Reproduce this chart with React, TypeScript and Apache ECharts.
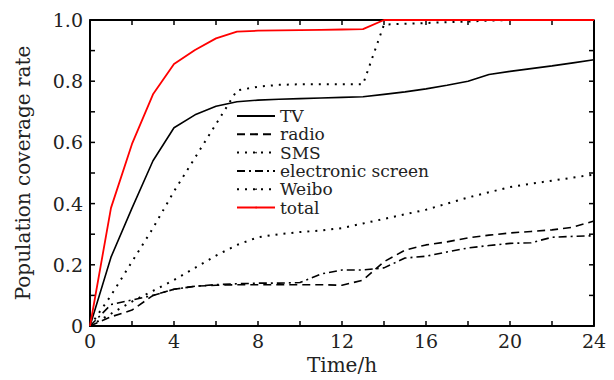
import React, { useEffect, useRef } from "react";
import * as echarts from "echarts";

const hours = [0,1,2,3,4,5,6,7,8,9,10,11,12,13,14,15,16,17,18,19,20,21,22,23,24];
const tv = [0,0.225,0.385,0.54,0.648,0.69,0.718,0.733,0.738,0.741,0.743,0.745,0.747,0.749,0.757,0.765,0.775,0.787,0.80,0.822,0.832,0.841,0.85,0.86,0.87];
const radio = [0,0.03,0.052,0.1,0.12,0.13,0.133,0.135,0.135,0.135,0.135,0.135,0.133,0.15,0.21,0.248,0.265,0.275,0.288,0.297,0.304,0.309,0.314,0.323,0.343];
const sms = [0,0.1,0.21,0.32,0.44,0.55,0.66,0.77,0.782,0.788,0.79,0.79,0.79,0.79,0.985,0.988,0.99,0.993,0.995,0.998,1,1,1,1,1];
const screen = [0,0.07,0.085,0.1,0.12,0.13,0.135,0.138,0.14,0.14,0.142,0.17,0.183,0.183,0.19,0.222,0.228,0.242,0.255,0.263,0.27,0.272,0.29,0.293,0.295];
const weibo = [0,0.04,0.08,0.115,0.15,0.19,0.23,0.265,0.29,0.3,0.307,0.312,0.32,0.335,0.35,0.365,0.38,0.4,0.42,0.437,0.454,0.465,0.475,0.485,0.495];
const total = [0,0.386,0.595,0.757,0.856,0.902,0.94,0.962,0.965,0.966,0.967,0.968,0.969,0.97,1,1,1,1,1,1,1,1,1,1,1];

const names = ["TV", "radio", "SMS", "electronic screen", "Weibo", "total"];
const xMin = 0, xMax = 24, yMin = 0, yMax = 1;
const xTicks = [2,4,6,8,10,12,14,16,18,20,22];
const yTicks = [0.1,0.2,0.3,0.4,0.5,0.6,0.7,0.8,0.9];
const FONT = "DejaVu Serif";

export default function App() {
  const ref = useRef<HTMLDivElement>(null);
  useEffect(() => {
    const chart = echarts.init(ref.current!, null, { renderer: "svg" });
    const mk = (name: string, data: number[], color: string, type: any, width = 1.6) => ({
      name,
      type: "line",
      data: hours.map((h, i) => [h, data[i]]),
      symbol: "none",
      lineStyle: { color, width, type },
      itemStyle: { color },
    });
    const tickStyle = { stroke: "#000", lineWidth: 1.5 };
    chart.setOption({
      animation: false,
      textStyle: { fontFamily: FONT },
      grid: { left: 90, right: 20, top: 20, bottom: 54 },
      legend: {
        left: 236,
        top: 107,
        orient: "vertical",
        itemWidth: 38,
        itemHeight: 2,
        itemGap: 0.3,
        padding: 0,
        data: names,
        textStyle: { fontFamily: FONT, fontSize: 17, lineHeight: 18, color: "#222" },
      },
      xAxis: {
        type: "value", min: xMin, max: xMax, interval: 2,
        name: "Time/h", nameLocation: "middle", nameGap: 29,
        nameTextStyle: { fontFamily: FONT, fontSize: 20, color: "#222" },
        axisLine: { show: true, lineStyle: { color: "#000", width: 2 } },
        axisTick: { show: false },
        splitLine: { show: false },
        axisLabel: { fontFamily: FONT, fontSize: 19, color: "#222", margin: 5,
          formatter: (v: number) => (v % 4 === 0 ? String(v) : "") },
      },
      yAxis: {
        type: "value", min: yMin, max: yMax, interval: 0.1,
        name: "Population coverage rate", nameLocation: "middle", nameGap: 57,
        nameTextStyle: { fontFamily: FONT, fontSize: 20, color: "#222" },
        axisLine: { show: true, lineStyle: { color: "#000", width: 2 } },
        axisTick: { show: false },
        splitLine: { show: false },
        axisLabel: { fontFamily: FONT, fontSize: 19, color: "#222", margin: 7,
          formatter: (v: number) => {
            const k = Math.round(v * 10);
            if (k % 2 !== 0) return "";
            return k === 0 ? "0" : v.toFixed(1);
          } },
      },
      series: [
        {
          name: "frame",
          type: "line",
          data: [[xMin, yMin], [xMax, yMin], [xMax, yMax], [xMin, yMax], [xMin, yMin]],
          symbol: "none",
          clip: false,
          silent: true,
          lineStyle: { color: "#000", width: 2 },
          z: 1,
        },
        {
          name: "xticks",
          type: "custom",
          silent: true,
          data: xTicks.map((v) => [v, yMin]),
          renderItem: (_p: any, api: any) => {
            const v = api.value(0);
            const t = api.coord([v, yMax]);
            const b = api.coord([v, yMin]);
            return {
              type: "group",
              children: [
                { type: "line", shape: { x1: t[0], y1: t[1], x2: t[0], y2: t[1] + 5 }, style: tickStyle },
                { type: "line", shape: { x1: b[0], y1: b[1], x2: b[0], y2: b[1] - 5 }, style: tickStyle },
              ],
            };
          },
          z: 1,
        },
        {
          name: "yticks",
          type: "custom",
          silent: true,
          data: yTicks.map((v) => [xMin, v]),
          renderItem: (_p: any, api: any) => {
            const v = api.value(1);
            const l = api.coord([xMin, v]);
            const r = api.coord([xMax, v]);
            return {
              type: "group",
              children: [
                { type: "line", shape: { x1: l[0], y1: l[1], x2: l[0] + 5, y2: l[1] }, style: tickStyle },
                { type: "line", shape: { x1: r[0], y1: r[1], x2: r[0] - 5, y2: r[1] }, style: tickStyle },
              ],
            };
          },
          z: 1,
        },
        mk("TV", tv, "#000", "solid"),
        mk("radio", radio, "#000", [8, 5]),
        mk("SMS", sms, "#000", [2, 6], 2),
        mk("electronic screen", screen, "#000", [8, 4, 2, 4]),
        mk("Weibo", weibo, "#000", [2, 6], 2),
        mk("total", total, "#f00", "solid", 1.8),
      ],
    });
    return () => chart.dispose();
  }, []);
  return <div ref={ref} style={{ width: 614, height: 380, position: "absolute", left: 0, top: 0 }} />;
}
